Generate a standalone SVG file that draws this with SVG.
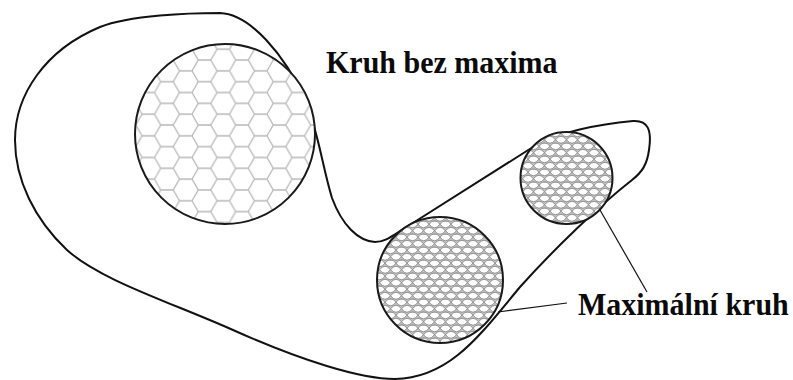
<svg xmlns="http://www.w3.org/2000/svg" width="793" height="380" viewBox="0 0 793 380">
  <style>
    .outline { fill: none; stroke: #111; stroke-width: 2; }
    .circ { stroke: #1a1a1a; stroke-width: 2; }
    .lead { fill: none; stroke: #111; stroke-width: 1.2; }
    .label { font-family: "Liberation Serif", "Times New Roman", serif; font-weight: bold; font-size: 30px; fill: #0a0a0a; }
  </style>
  <defs>
    <pattern id="hex" patternUnits="userSpaceOnUse" x="192" y="125" width="37.5" height="21.65">
      <rect width="37.5" height="21.65" fill="#fff"/>
      <path d="M0,10.825 L6.25,0 L18.75,0 L25,10.825 L18.75,21.65 L6.25,21.65 Z M25,10.825 L37.5,10.825" fill="none" stroke="#b8b8b8" stroke-width="1.3"/>
    </pattern>
    <pattern id="mesh" patternUnits="userSpaceOnUse" x="0" y="0" width="11" height="13">
      <rect width="11" height="13" fill="#c6c6c6"/>
      <g fill="#fff" stroke="#7a7a7a" stroke-width="0.8">
        <path d="M0,3.25 Q5.5,-3.75 11,3.25 Q5.5,10.25 0,3.25 Z"/>
        <path d="M-5.5,9.75 Q0,2.75 5.5,9.75 Q0,16.75 -5.5,9.75 Z"/>
        <path d="M5.5,9.75 Q11,2.75 16.5,9.75 Q11,16.75 5.5,9.75 Z"/>
        <path d="M0,-3.25 Q5.5,3.75 11,-3.25" fill="none"/>
        <path d="M0,16.25 Q5.5,9.25 11,16.25" fill="none"/>
        <path d="M-5.5,-3.25 Q0,3.75 5.5,-3.25 M5.5,-3.25 Q11,3.75 16.5,-3.25" fill="none"/>
      </g>
    </pattern>
  </defs>

  <g id="region">
    <path class="outline" d="M15,140 C15,95 45,50 100,27 C130,15 190,13 220,13 C250,14 285,55 305,100 C318,130 322,165 332,198 C342,225 358,241 375,242 C385,242 392,236 405,228 L533,147 C557,132 600,124 633,121 C648,120 652,130 649,150 C647,165 642,172 632,180 C600,205 555,248 520,287 C480,335 450,378 395,379 C360,379 300,360 233,330 C170,302 100,280 67,250 C35,220 15,180 15,140 Z"/>
  </g>

  <g id="circle-no-max">
    <circle class="circ" cx="225" cy="134" r="90" fill="url(#hex)"/>
  </g>
  <g id="circle-max-large">
    <circle class="circ" cx="440" cy="280" r="63" fill="url(#mesh)"/>
  </g>
  <g id="circle-max-small">
    <circle class="circ" cx="566.5" cy="178" r="46" fill="url(#mesh)"/>
  </g>

  <g id="connectors">
    <line class="lead" x1="600" y1="210" x2="647" y2="292"/>
    <line class="lead" x1="498" y1="312" x2="567" y2="303"/>
  </g>

  <g id="label-no-max" transform="translate(326,73) scale(1,1.07)">
    <text class="label" x="0" y="0">Kruh bez maxima</text>
  </g>
  <g id="label-max" transform="translate(578,315) scale(1,1.07)">
    <text class="label" x="0" y="0">Maximální kruh</text>
  </g>
</svg>
